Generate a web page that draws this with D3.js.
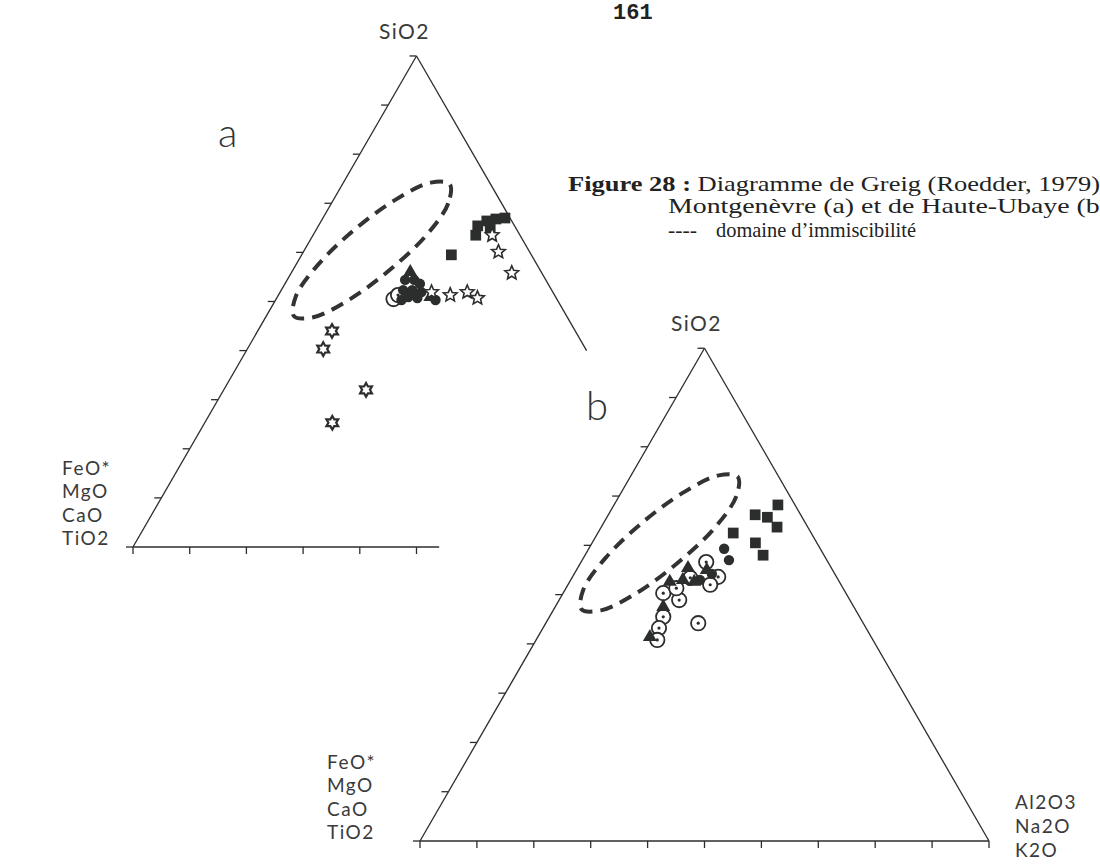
<!DOCTYPE html>
<html><head><meta charset="utf-8">
<script src="https://cdn.jsdelivr.net/npm/d3@7"></script>
<style>body{margin:0;background:#fff;overflow:hidden}</style>
</head><body>
<svg id="chart" width="1100" height="864"></svg>
<script>
// ---------- data: [SiO2 %, Al2O3+Na2O+K2O %] (rest = FeO*+MgO+CaO+TiO2) ----------
const tickValues = [0,10,20,30,40,50,60,70,80,90,100];
const topLabel = "SiO2";
const leftLabels = ["FeO*","MgO","CaO","TiO2"];
const rightLabels = ["Al2O3","Na2O","K2O"];

// immiscibility domain outline (Roedder, 1979)
const immiscibility = [[73.9,18.9],[70.0,20.6],[63.5,20.0],[56.3,17.0],[50.2,12.8],[46.8,8.4],
  [47.0,4.9],[51.0,3.2],[57.5,3.9],[64.7,6.8],[70.8,11.0],[74.2,15.4]];

// (a) Montgenèvre
const aSquares = [[67.0,32.1],[66.8,30.6],[66.4,29.2],[65.4,28.1],[63.5,28.7],[65.0,30.5],[59.5,26.4]];
const aStars5 = [[63.5,31.6],[60.1,34.4],[55.8,38.9],[51.3,30.3],[51.9,33.0],[50.7,35.4],[51.9,26.7]];
const aStars6 = [[44.0,13.1],[40.3,13.4],[32.0,25.1],[25.3,22.5]];
const aFilledCircles = [[54.4,20.8],[54.4,22.4],[53.6,23.8],[52.3,21.5],[52.3,23.1],[51.9,24.9],
  [50.9,23.1],[50.7,24.8],[50.3,22.2],[50.3,28.2]];
const aOpenCircles = [[50.5,20.7],[51.3,21.1]];
const aTriangles = [[56.0,20.9],[50.9,27.0]];

// (b) Haute-Ubaye
const bSquares = [[66.2,25.8],[68.2,28.8],[63.7,30.9],[60.5,28.7],[58.0,31.3],[62.5,23.8],[65.7,28.2]];
const bFilledCircles = [[59.3,23.8],[57.0,25.8],[53.0,22.7],[54.2,24.2]];
const bOpenCircles = [[56.6,22.0],[53.6,25.6],[52.0,25.0],[50.3,17.6],[48.9,21.1],[51.3,19.4],
  [44.2,26.8],[45.5,20.0],[43.2,20.4],[40.8,21.3],[53.4,20.8]];
const bTriangles = [[55.4,19.4],[53.0,19.7],[55.0,22.9],[47.5,19.0],[41.4,19.7],[52.6,21.9],[52.6,17.6]];

// ---------- drawing ----------
const svg = d3.select("#chart");
svg.append("rect").attr("width",1100).attr("height",864).attr("fill","#fff");
const INK = "#2b2e2c";

function ternary(cfg){
  const g = svg.append("g");
  const xs = d3.scaleLinear().domain([0,100]).range([cfg.left, cfg.right]);
  const ys = d3.scaleLinear().domain([0,100]).range([cfg.base, cfg.base - (cfg.right-cfg.left)*Math.sqrt(3)/2]);
  const P = ([s,a]) => [xs(a + s/2), ys(s)];
  const line = d3.line();
  g.append("path").attr("d", line([P([0,0]), P([100,0])])).attr("stroke",INK).attr("stroke-width",1.3).attr("fill","none");
  g.append("path").attr("d", line([P([100,0]), P([cfg.rightEdgeEnd, 100-cfg.rightEdgeEnd])])).attr("stroke",INK).attr("stroke-width",1.3).attr("fill","none");
  g.append("path").attr("d", line([P([0,0]), P([0,cfg.baseEnd])])).attr("stroke",INK).attr("stroke-width",1.6).attr("fill","none");
  tickValues.forEach(t=>{
    const [x,y] = P([t,0]);
    g.append("line").attr("x1",x).attr("y1",y).attr("x2",x-7).attr("y2",y).attr("stroke",INK).attr("stroke-width",1.3);
    if (t <= cfg.baseEnd){
      const [bx,by] = P([0,t]);
      g.append("line").attr("x1",bx).attr("y1",by).attr("x2",bx).attr("y2",by+7).attr("stroke",INK).attr("stroke-width",1.3);
    }
  });
  g.append("path").attr("d", d3.line().curve(d3.curveCatmullRomClosed)(immiscibility.map(P)))
    .attr("fill","none").attr("stroke","#333").attr("stroke-width",4).attr("stroke-dasharray","13 8");
  const apex = P([100,0]);
  const lab = {"font-family":"Lato, 'DejaVu Sans', sans-serif","font-weight":400,"font-size":19,
               "letter-spacing":"1.5px","fill":"#3a3a3a"};
  const t1 = g.append("text").attr("x",apex[0]+cfg.topDx).attr("y",apex[1]-17).attr("text-anchor","middle").text(topLabel);
  Object.entries(lab).forEach(([k,v])=>t1.attr(k,v));
  t1.attr("font-size",21);
  leftLabels.forEach((s,i)=>{
    const t = g.append("text").attr("x",cfg.left+cfg.leftDx).attr("y",cfg.base-2+(i-3)*23.4).text(s);
    Object.entries(lab).forEach(([k,v])=>t.attr(k,v));
  });
  if (cfg.showRight) rightLabels.forEach((s,i)=>{
    const t = g.append("text").attr("x",cfg.right+26).attr("y",cfg.base+16+(i-2)*24.2).text(s);
    Object.entries(lab).forEach(([k,v])=>t.attr(k,v));
  });
  g.append("text").attr("x",cfg.letter[0]).attr("y",cfg.letter[1]).text(cfg.name)
    .attr("font-family","Lato, 'Liberation Sans', sans-serif").attr("font-weight",300).attr("font-size",40).attr("fill","#333");
  return {g,P};
}

function star(n, R, r){
  const pts = [];
  for (let i=0;i<2*n;i++){
    const ang = -Math.PI/2 + i*Math.PI/n;
    const rad = i%2===0 ? R : r;
    pts.push([rad*Math.cos(ang), rad*Math.sin(ang)]);
  }
  return "M"+pts.map(p=>p.join(",")).join("L")+"Z";
}
function marks(g, P, data, kind){
  const sel = g.append("g").selectAll("g").data(data).join("g")
    .attr("transform", d=>{const [x,y]=P(d); return `translate(${x},${y})`;});
  if (kind==="square") sel.append("path").attr("d", d3.symbol(d3.symbolSquare, 115)()).attr("fill",INK);
  if (kind==="triangle") sel.append("path").attr("d", d3.symbol(d3.symbolTriangle, 85)()).attr("fill",INK);
  if (kind==="fcircle") sel.append("circle").attr("r",5.2).attr("fill",INK);
  if (kind==="ocircle"){
    sel.append("circle").attr("r",7.2).attr("fill","#fff").attr("stroke",INK).attr("stroke-width",1.8);
    sel.append("circle").attr("r",1.6).attr("fill",INK);
  }
  if (kind==="star5") sel.append("path").attr("d", star(5,7.2,3.3)).attr("fill","#fff").attr("stroke",INK).attr("stroke-width",1.6);
  if (kind==="star6") sel.append("path").attr("d", star(6,6.8,3.9)).attr("fill","#fff").attr("stroke",INK).attr("stroke-width",2.2);
}

const A = ternary({name:"a", left:133, right:700, base:547, rightEdgeEnd:40, baseEnd:54,
  topDx:-12, leftDx:-71, showRight:false, letter:[218,147]});
marks(A.g, A.P, aSquares, "square");
marks(A.g, A.P, aOpenCircles, "ocircle");
marks(A.g, A.P, aFilledCircles, "fcircle");
marks(A.g, A.P, aTriangles, "triangle");
marks(A.g, A.P, aStars5, "star5");
marks(A.g, A.P, aStars6, "star6");

const B = ternary({name:"b", left:420, right:989, base:841, rightEdgeEnd:0, baseEnd:100,
  topDx:-8, leftDx:-93, showRight:true, letter:[586,420]});
marks(B.g, B.P, bSquares, "square");
marks(B.g, B.P, bOpenCircles, "ocircle");
marks(B.g, B.P, bFilledCircles, "fcircle");
marks(B.g, B.P, bTriangles, "triangle");

// page number and caption
svg.append("text").attr("x",613).attr("y",19).text("161")
  .attr("font-family","'Liberation Mono', monospace").attr("font-weight","bold").attr("font-size",22).attr("fill","#222");
const cap = {"font-family":"'Liberation Serif', serif","font-size":21,"fill":"#222"};
const l1 = svg.append("text").attr("x",568).attr("y",191).attr("textLength",532).attr("lengthAdjust","spacingAndGlyphs");
l1.append("tspan").attr("font-weight","bold").text("Figure 28 :");
l1.append("tspan").text(" Diagramme de Greig (Roedder, 1979)");
const l2 = svg.append("text").attr("x",668).attr("y",213).attr("textLength",441).attr("lengthAdjust","spacingAndGlyphs")
  .text("Montgenèvre (a) et de Haute-Ubaye (b)");
const l3a = svg.append("text").attr("x",668).attr("y",237).attr("textLength",29).attr("lengthAdjust","spacingAndGlyphs").text("----");
const l3b = svg.append("text").attr("x",716).attr("y",237).attr("textLength",200).attr("lengthAdjust","spacingAndGlyphs").text("domaine d’immiscibilité");
[l1,l2,l3a,l3b].forEach(t=>Object.entries(cap).forEach(([k,v])=>t.attr(k,v)));
</script>
</body></html>
